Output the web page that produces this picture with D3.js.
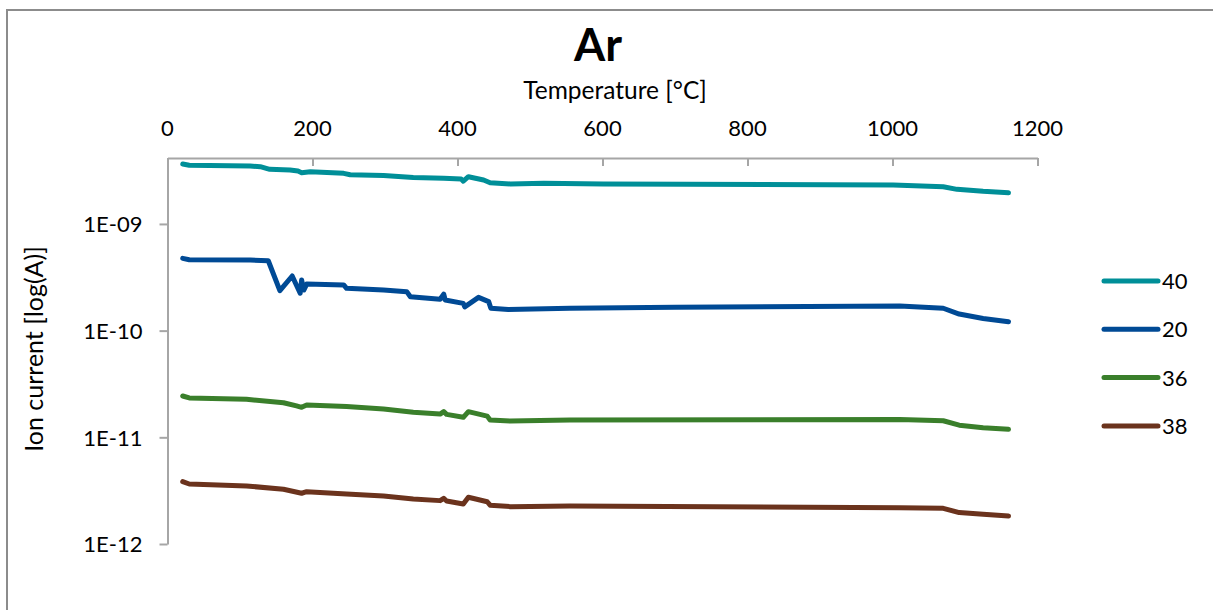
<!DOCTYPE html>
<html>
<head>
<meta charset="utf-8">
<script src="https://cdn.jsdelivr.net/npm/d3@7"></script>
<style>
  body { margin: 0; background: #fff; }
  text { font-family: Lato, "Open Sans", sans-serif; fill: #000; }
</style>
</head>
<body>
<script>
var width = 1213
var height = 610

// series names in legend order
var series_names = ["40", "20", "36", "38"]
var series_colors = ["#008f98", "#004a95", "#3a7f2b", "#6b331d"]

// temperature [°C] and ion current [A]
var temp_40 = [21, 30, 114, 128, 141, 169, 180, 185, 197, 243, 252, 298, 339, 381, 405, 408, 415, 436, 445, 473, 519, 601, 716, 1001, 1070, 1089, 1125, 1160]
var ion_40 = [3.64e-9, 3.55e-9, 3.49e-9, 3.44e-9, 3.25e-9, 3.20e-9, 3.13e-9, 3.02e-9, 3.08e-9, 2.98e-9, 2.89e-9, 2.85e-9, 2.73e-9, 2.68e-9, 2.64e-9, 2.52e-9, 2.77e-9, 2.58e-9, 2.43e-9, 2.37e-9, 2.40e-9, 2.37e-9, 2.35e-9, 2.32e-9, 2.23e-9, 2.11e-9, 2.02e-9, 1.96e-9]

var temp_20 = [21, 30, 114, 139, 155, 172, 183, 185, 188, 192, 243, 247, 298, 330, 335, 376, 381, 383, 408, 410, 429, 443, 446, 470, 555, 700, 1010, 1070, 1092, 1125, 1160]
var ion_20 = [4.76e-10, 4.62e-10, 4.59e-10, 4.52e-10, 2.37e-10, 3.25e-10, 2.24e-10, 2.98e-10, 2.40e-10, 2.73e-10, 2.68e-10, 2.49e-10, 2.40e-10, 2.32e-10, 2.08e-10, 1.97e-10, 2.20e-10, 1.94e-10, 1.80e-10, 1.67e-10, 2.05e-10, 1.87e-10, 1.62e-10, 1.58e-10, 1.62e-10, 1.66e-10, 1.70e-10, 1.62e-10, 1.43e-10, 1.30e-10, 1.21e-10]

var temp_36 = [21, 30, 109, 160, 178, 185, 192, 247, 298, 339, 376, 381, 385, 408, 415, 441, 445, 473, 555, 1010, 1070, 1092, 1125, 1160]
var ion_36 = [2.44e-11, 2.34e-11, 2.27e-11, 2.11e-11, 1.97e-11, 1.91e-11, 2.01e-11, 1.94e-11, 1.84e-11, 1.72e-11, 1.65e-11, 1.74e-11, 1.64e-11, 1.54e-11, 1.74e-11, 1.58e-11, 1.45e-11, 1.42e-11, 1.45e-11, 1.47e-11, 1.43e-11, 1.30e-11, 1.23e-11, 1.19e-11]

var temp_38 = [21, 30, 109, 160, 185, 192, 247, 298, 339, 376, 381, 385, 408, 415, 441, 445, 473, 555, 1010, 1070, 1092, 1125, 1160]
var ion_38 = [3.84e-12, 3.65e-12, 3.50e-12, 3.26e-12, 2.99e-12, 3.09e-12, 2.94e-12, 2.82e-12, 2.64e-12, 2.55e-12, 2.68e-12, 2.53e-12, 2.37e-12, 2.74e-12, 2.49e-12, 2.31e-12, 2.24e-12, 2.27e-12, 2.19e-12, 2.16e-12, 1.97e-12, 1.90e-12, 1.83e-12]

var x_ticks = [0, 200, 400, 600, 800, 1000, 1200]
var y_ticks = [1e-9, 1e-10, 1e-11, 1e-12]
var y_max = 4.15e-9

var temps = [temp_40, temp_20, temp_36, temp_38]
var ions = [ion_40, ion_20, ion_36, ion_38]

var svg = d3.select("body").append("svg")
    .attr("width", width)
    .attr("height", height)

// chart frame (right and bottom edges fall outside the picture)
svg.append("rect")
    .attr("x", 7).attr("y", 10)
    .attr("width", 1240).attr("height", 640)
    .attr("fill", "none")
    .attr("stroke", "#8c8c8c")
    .attr("stroke-width", 2)

var x = d3.scaleLinear().domain([0, 1200]).range([167.5, 1037.5])
var y = d3.scaleLog().domain([1e-12, y_max]).range([544, 158])

var axis_color = "#a6a6a6"

var xAxis = svg.append("g")
    .attr("transform", "translate(0,158)")
    .call(d3.axisBottom(x).tickValues(x_ticks).tickSize(8).tickSizeOuter(0).tickFormat(d3.format("d")))
xAxis.selectAll("text").remove()
xAxis.selectAll("line, path").attr("stroke", axis_color).attr("stroke-width", 2)
svg.selectAll(".xlab").data(x_ticks).enter()
    .append("text")
    .attr("class", "xlab")
    .attr("x", function(d){ return x(d) })
    .attr("y", 136)
    .attr("text-anchor", "middle")
    .style("font-size", "22px")
    .text(function(d){ return d })

var yAxis = svg.append("g")
    .attr("transform", "translate(167.5,0)")
    .call(d3.axisLeft(y).tickValues(y_ticks).tickSize(8).tickSizeOuter(0)
        .tickFormat(function(d){ return "1E-" + d3.format("02d")(-Math.round(Math.log10(d))) }))
yAxis.selectAll("line, path").attr("stroke", axis_color).attr("stroke-width", 2)
yAxis.selectAll("text")
    .attr("x", -25)
    .attr("dy", "0.36em")
    .attr("fill", "#000")
    .style("font-size", "22px")
    .style("font-family", "Lato, sans-serif")

var line = d3.line()
    .x(function(d){ return x(d[0]) })
    .y(function(d){ return y(d[1]) })

var series = series_names.map(function(name, k){
  return { name: name, color: series_colors[k],
           points: d3.zip(temps[k], ions[k]) }
})

svg.selectAll(".series").data(series).enter()
    .append("path")
    .attr("class", "series")
    .attr("fill", "none")
    .attr("stroke", function(d){ return d.color })
    .attr("stroke-width", 5)
    .attr("stroke-linecap", "round")
    .attr("stroke-linejoin", "round")
    .attr("d", function(d){ return line(d.points) })

// titles
svg.append("text")
    .attr("x", 598).attr("y", 61)
    .attr("text-anchor", "middle")
    .style("font-size", "45px")
    .style("font-weight", "bold")
    .text("Ar")

svg.append("text")
    .attr("x", 615).attr("y", 99)
    .attr("text-anchor", "middle")
    .style("font-size", "24.5px")
    .text("Temperature [°C]")

svg.append("text")
    .attr("transform", "translate(43,349) rotate(-90)")
    .attr("text-anchor", "middle")
    .style("font-size", "25px")
    .text("Ion current [log(A)]")

// legend
var legend = svg.selectAll(".legend").data(series).enter()
    .append("g")
    .attr("class", "legend")
    .attr("transform", function(d, i){ return "translate(1104," + (281 + i * 48.3) + ")" })
legend.append("line")
    .attr("x1", 0).attr("x2", 54)
    .attr("stroke", function(d){ return d.color })
    .attr("stroke-width", 5)
    .attr("stroke-linecap", "round")
legend.append("text")
    .attr("x", 58)
    .attr("dy", "0.36em")
    .style("font-size", "22px")
    .text(function(d){ return d.name })
</script>
</body>
</html>
